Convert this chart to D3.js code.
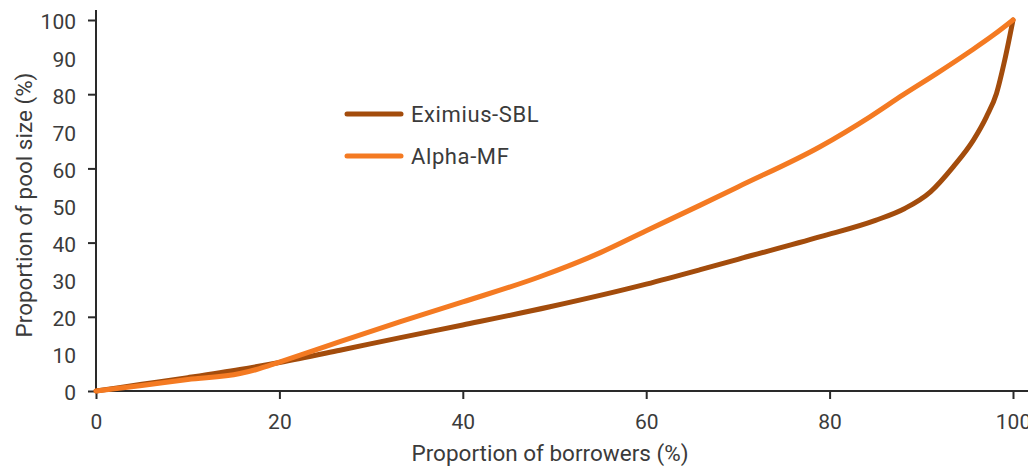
<!DOCTYPE html>
<html>
<head>
<meta charset="utf-8">
<script src="https://cdn.jsdelivr.net/npm/d3@7"></script>
<style>
  html, body { margin: 0; padding: 0; background: #fff; }
  svg { display: block; }
  text { font-family: Roboto, "DejaVu Sans", sans-serif; fill: #3b3b3b; }
</style>
</head>
<body>
<svg id="chart" width="1028" height="468"></svg>
<script>
// Data (x = % of borrowers, y = % of pool size)
const eximiusX = [0, 5, 10, 15.7, 20, 26.6, 33.2, 40, 49.5, 60, 65.9, 70, 79, 85, 88.2, 91, 93.5, 95.7, 97.1, 98.2, 99.1, 100];
const eximiusY = [0, 1.8, 3.6, 5.8, 7.7, 11.0, 14.4, 17.8, 22.7, 28.8, 32.7, 35.5, 41.6, 46, 49.2, 53.7, 60.5, 67.7, 73.9, 80.2, 89.2, 100];
const alphaX = [0, 5, 10, 15.7, 17.5, 20, 26.6, 33.2, 40, 48.4, 55, 60, 65.9, 70, 79, 84.4, 88, 91.7, 95.3, 97.9, 100];
const alphaY = [0, 1.5, 3.1, 4.7, 5.8, 7.8, 13.3, 18.7, 24, 30.8, 37.3, 43.2, 50.1, 55, 65.9, 73.9, 79.8, 85.6, 91.5, 96, 100];
const seriesNames = ["Eximius-SBL", "Alpha-MF"];
const seriesColors = ["#a34c0c", "#f47a22"];
const xTicks = [0, 20, 40, 60, 80, 100];
const yTickMarks = [0, 20, 40, 60, 80, 100];
const yTickLabels = [0, 10, 20, 30, 40, 50, 60, 70, 80, 90, 100];
const xTitle = "Proportion of borrowers (%)";
const yTitle = "Proportion of pool size (%)";

const svg = d3.select("#chart");
const x = d3.scaleLinear().domain([0, 100]).range([96, 1013]);
const y = d3.scaleLinear().domain([0, 100]).range([391, 20]);
const axisColor = "#2a2a2a";

// Axes lines
svg.append("line").attr("x1", x(0)).attr("x2", 1028).attr("y1", y(0)).attr("y2", y(0))
  .attr("stroke", axisColor).attr("stroke-width", 2);
svg.append("line").attr("x1", x(0)).attr("x2", x(0)).attr("y1", y(0)).attr("y2", 10)
  .attr("stroke", axisColor).attr("stroke-width", 2);

// X ticks
const xAxis = d3.axisBottom(x).tickValues(xTicks).tickSize(8).tickPadding(6);
const gx = svg.append("g").attr("transform", `translate(0,${y(0)})`).call(xAxis);
gx.select(".domain").remove();
gx.selectAll(".tick line").attr("stroke", axisColor).attr("stroke-width", 2);
gx.selectAll(".tick text").attr("font-size", 21).attr("dy", "1.15em")
  .style("font-family", "Roboto, sans-serif").attr("fill", "#3b3b3b");

// Y tick marks
const yAxisMarks = d3.axisLeft(y).tickValues(yTickMarks).tickSize(8).tickFormat("");
const gy = svg.append("g").attr("transform", `translate(${x(0)},0)`).call(yAxisMarks);
gy.select(".domain").remove();
gy.selectAll(".tick line").attr("stroke", axisColor).attr("stroke-width", 2);

// Y labels (every 10)
svg.append("g").selectAll("text").data(yTickLabels).join("text")
  .attr("x", 76).attr("y", d => y(d)).attr("dy", "0.45em")
  .attr("text-anchor", "end").attr("font-size", 21).text(d => d);

// Titles
svg.append("text").attr("x", 550).attr("y", 461).attr("text-anchor", "middle")
  .attr("font-size", 22.5).text(xTitle);
svg.append("text").attr("transform", `translate(31.5,205) rotate(-90)`).attr("text-anchor", "middle")
  .attr("font-size", 22.5).text(yTitle);

// Lines
const line = d3.line().x(d => x(d[0])).y(d => y(d[1])).curve(d3.curveMonotoneX);
const series = [
  d3.zip(eximiusX, eximiusY),
  d3.zip(alphaX, alphaY)
];
series.forEach((pts, i) => {
  svg.append("path").datum(pts).attr("d", line)
    .attr("fill", "none").attr("stroke", seriesColors[i])
    .attr("stroke-width", 5).attr("stroke-linecap", "round").attr("stroke-linejoin", "round");
});

// Legend
const legendY = [114, 156];
seriesNames.forEach((name, i) => {
  svg.append("line").attr("x1", 347).attr("x2", 401).attr("y1", legendY[i]).attr("y2", legendY[i])
    .attr("stroke", seriesColors[i]).attr("stroke-width", 5).attr("stroke-linecap", "round");
  svg.append("text").attr("x", 411).attr("y", legendY[i]).attr("dy", "0.36em")
    .attr("font-size", 22).attr("letter-spacing", 0.6).text(name);
});
</script>
</body>
</html>
